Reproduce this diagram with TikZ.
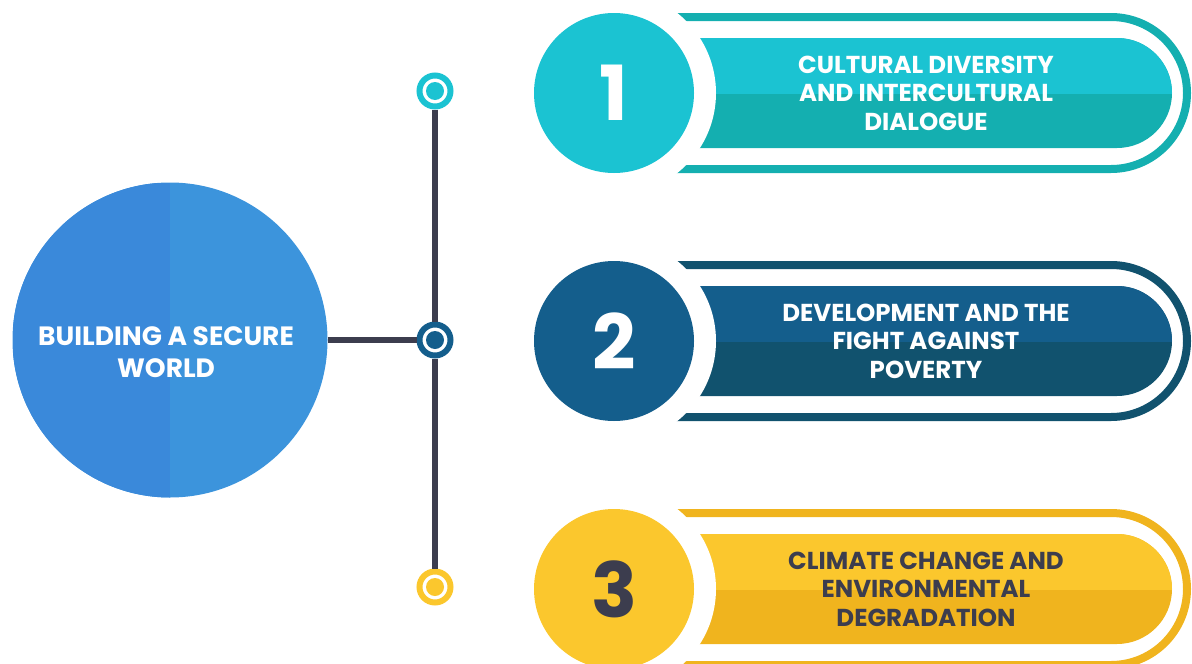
\documentclass[tikz,border=0pt]{standalone}
\usepackage{fontspec}
\setmainfont{Poppins}
\usepackage{tikz}
\usetikzlibrary{positioning,shapes.geometric}
\definecolor{cyanL}{HTML}{1BC3D2}
\definecolor{cyanD}{HTML}{14AFB0}
\definecolor{blueL}{HTML}{145E8C}
\definecolor{blueD}{HTML}{11526E}
\definecolor{yellowL}{HTML}{FBC72D}
\definecolor{yellowD}{HTML}{F0B41E}
\definecolor{worldL}{HTML}{3A89DA}
\definecolor{worldR}{HTML}{3C94DC}
\definecolor{ink}{HTML}{3C3D4E}

\begin{document}
\begin{tikzpicture}[
x=1pt, y=-1pt,
font=\bfseries,
link/.style={draw=ink, line width=6pt},
dot/.style={circle, fill=white, draw=#1, line width=6pt, minimum size=31pt, inner sep=0pt,
  path picture={\fill[#1] (path picture bounding box.center) circle (9pt);}},
num/.style={circle, minimum size=160pt, inner sep=0pt, font=\fontsize{76}{76}\selectfont\bfseries},
band/.style={draw=#1, line width=8pt, rounded corners=76pt},
caption/.style={align=center, font=\fontsize{24.5}{28.5}\selectfont\bfseries}]
    \useasboundingbox (0,0) rectangle (1192,664);

    % Draw main circle
    \node[circle, minimum size=315pt, inner sep=0pt, fill=worldR,
      path picture={\fill[worldL] (path picture bounding box.south west) rectangle (path picture bounding box.north);}]
      (world) at (170,340) {};
    \node[white, align=center, font=\fontsize{26.5}{32}\selectfont\bfseries] (wtext) at (166,352) {BUILDING A SECURE\\WORLD};

    % banner 1
    \draw[band=cyanD] (560,17) rectangle (1187,169);
    \fill[cyanD, rounded corners=55pt] (560,38) rectangle (1172,148);
    \begin{scope}
      \clip (540,30) rectangle (1190,93);
      \fill[cyanL, rounded corners=55pt] (560,38) rectangle (1172,148);
    \end{scope}
    \fill[white] (614,93) circle (102pt);
    \node[num, fill=cyanL, text=white] (n1) at (614,93) {1};
    \node[caption, text=white] (t1) at (926,93) {CULTURAL DIVERSITY\\AND INTERCULTURAL\\DIALOGUE};

    % banner 2
    \draw[band=blueD] (560,265) rectangle (1187,417);
    \fill[blueD, rounded corners=55pt] (560,286) rectangle (1172,396);
    \begin{scope}
      \clip (540,278) rectangle (1190,341);
      \fill[blueL, rounded corners=55pt] (560,286) rectangle (1172,396);
    \end{scope}
    \fill[white] (614,341) circle (102pt);
    \node[num, fill=blueL, text=white] (n2) at (614,341) {2};
    \node[caption, text=white] (t2) at (926,341) {DEVELOPMENT AND THE\\FIGHT AGAINST\\POVERTY};

    % banner 3
    \draw[band=yellowD] (560,513) rectangle (1187,665);
    \fill[yellowD, rounded corners=55pt] (560,534) rectangle (1172,644);
    \begin{scope}
      \clip (540,526) rectangle (1190,589);
      \fill[yellowL, rounded corners=55pt] (560,534) rectangle (1172,644);
    \end{scope}
    \fill[white] (614,589) circle (102pt);
    \node[num, fill=yellowL, text=ink] (n3) at (614,589) {3};
    \node[caption, text=ink] (t3) at (926,589) {CLIMATE CHANGE AND\\ENVIRONMENTAL\\DEGRADATION};

    % dots and links
    \node[dot=cyanL] (d1) at (435,91) {};
    \node[dot=blueL] (d2) at (435,340) {};
    \node[dot=yellowL] (d3) at (435,587) {};
    \draw[link] (world) -- (d2);
    \draw[link] (d1) -- (d2) -- (d3);

\end{tikzpicture}
\end{document}
